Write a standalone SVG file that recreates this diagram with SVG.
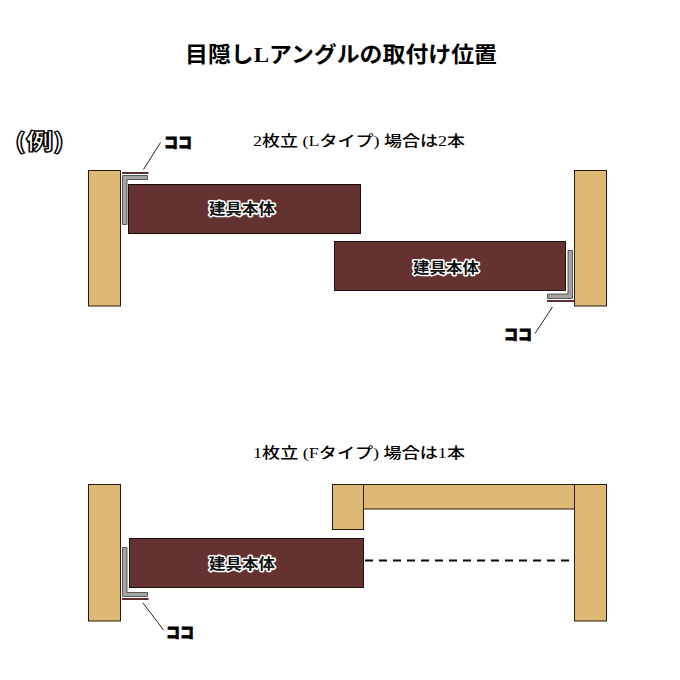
<svg xmlns="http://www.w3.org/2000/svg" width="680" height="680" viewBox="0 0 680 680">
<style>
text{font-family:"Liberation Serif","Noto Sans CJK JP",serif;fill:#000}
.wood{fill:#deb976;stroke:#2a1a08;stroke-width:1}
.panel{fill:#653232;stroke:#1e0f0f;stroke-width:1}
.angle{fill:#a3a3a3;stroke:#3a3a3a;stroke-width:.8}
.hide{stroke:#5f2f2f;stroke-width:2;fill:none}
.lead{stroke:#222;stroke-width:1;fill:none}
.head{font-size:15px;font-weight:500}
.pl{font-size:15px;font-weight:700;fill:#111;stroke:#fff;stroke-width:3;paint-order:stroke;stroke-linejoin:round}
.koko{font-family:"Noto Sans CJK JP",sans-serif;font-size:15px;font-weight:900;stroke:#000;stroke-width:.8}
.ex{font-family:"Noto Sans CJK JP",sans-serif;font-size:22px;font-weight:900;fill:#fff;stroke:#000;stroke-width:1.3;stroke-linejoin:round}
</style>
<rect width="680" height="680" fill="#fff"/>
<g id="title"><text x="185" y="62" font-size="22" font-weight="700" textLength="312" lengthAdjust="spacingAndGlyphs">目隠しLアングルの取付け位置</text></g>
<g id="example"><text class="ex" x="15" y="149" textLength="49" lengthAdjust="spacingAndGlyphs">(例)</text></g>
<g id="heading-2"><text class="head" x="253" y="146" textLength="212" lengthAdjust="spacingAndGlyphs">2枚立 (Lタイプ) 場合は2本</text></g>
<g id="heading-1"><text class="head" x="253" y="458" textLength="212" lengthAdjust="spacingAndGlyphs">1枚立 (Fタイプ) 場合は1本</text></g>
<g id="post-top-left"><rect class="wood" x="88.5" y="170.5" width="32" height="135.5"/></g>
<g id="post-top-right"><rect class="wood" x="574.5" y="170.5" width="32" height="135.5"/></g>
<g id="panel-top-left"><rect class="panel" x="128.5" y="184.5" width="232" height="49"/><text class="pl" x="209" y="214" textLength="66" lengthAdjust="spacingAndGlyphs">建具本体</text></g>
<g id="panel-top-right"><rect class="panel" x="334.5" y="241.5" width="231" height="49"/><text class="pl" x="413" y="273" textLength="66" lengthAdjust="spacingAndGlyphs">建具本体</text></g>
<g id="angle-top-left"><path class="angle" d="M122.5 175.5H147.5V179.5H127V224.5H122.5Z"/><path class="hide" d="M122 173H148.5"/></g>
<g id="angle-top-right"><path class="angle" d="M572.5 250.5V298.5H547.5V294H568V250.5Z"/><path class="hide" d="M547 301H574"/></g>
<g id="post-bottom-left"><rect class="wood" x="88.5" y="484.5" width="32" height="136.5"/></g>
<g id="post-bottom-right"><rect class="wood" x="574.5" y="484.5" width="32" height="136.5"/></g>
<g id="frame-head"><rect class="wood" x="363.5" y="484.5" width="211" height="24.5"/></g>
<g id="frame-block"><rect class="wood" x="332.5" y="484.5" width="31" height="45"/></g>
<g id="panel-bottom"><rect class="panel" x="129.5" y="538.5" width="234" height="49"/><text class="pl" x="209" y="569" textLength="66" lengthAdjust="spacingAndGlyphs">建具本体</text></g>
<g id="angle-bottom"><path class="angle" d="M122.5 547.5H127V592.5H147.5V596.5H122.5Z"/><path class="hide" d="M122 599H148.5"/></g>
<g id="connectors">
<path class="lead" d="M143.5 169.5L160.5 142.5"/>
<path class="lead" d="M552.5 307L535 333.5"/>
<path class="lead" d="M143 603L163.5 630"/>
<path d="M365 560.5H570" fill="none" stroke="#000" stroke-width="2" stroke-dasharray="8 6"/>
</g>
<g id="labels">
<text class="koko" x="164" y="148" textLength="28" lengthAdjust="spacingAndGlyphs">ココ</text>
<text class="koko" x="504" y="340" textLength="28" lengthAdjust="spacingAndGlyphs">ココ</text>
<text class="koko" x="166" y="638" textLength="28" lengthAdjust="spacingAndGlyphs">ココ</text>
</g>
</svg>
